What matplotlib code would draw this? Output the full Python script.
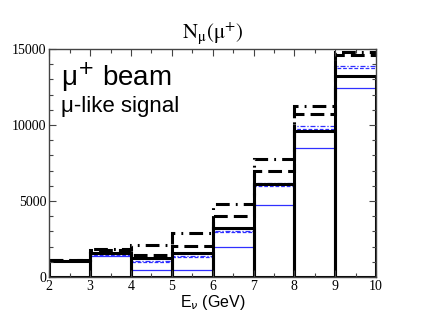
import matplotlib
matplotlib.use("Agg")
import matplotlib.pyplot as plt
from matplotlib.ticker import MultipleLocator
import numpy as np

# bin edges (GeV)
edges = [2, 3, 4, 5, 6, 7, 8, 9, 10]

# thick black solid bars
black_solid = [1060, 1580, 1250, 1610, 3230, 6100, 9580, 13220]
# thick black dashed
black_dashed = [1100, 1800, 1440, 2020, 3990, 6950, 10700, 14620]
# thick black dash-dot
black_dashdot = [1120, 1860, 2120, 2900, 4820, 7740, 11230, 14780]
# thin blue lines
blue_dashdot = [1080, 1500, 1040, 1380, 3020, 6170, 9960, 13900]
blue_dashed = [1070, 1440, 990, 1290, 2940, 5960, 9770, 13740]
blue_solid = [1040, 1400, 490, 470, 1950, 4750, 8460, 12440]

blue = "#3030ff"

fig = plt.figure(figsize=(4.23, 3.27), dpi=100)
ax = fig.add_axes([0.1165, 0.153, 0.7725, 0.697])

x = np.array(edges)

ax.stairs(blue_solid, x, baseline=None, color=blue, lw=0.9)
ax.stairs(blue_dashed, x, baseline=None, color=blue, lw=0.9, linestyle=(0, (3, 1.5)))
ax.stairs(blue_dashdot, x, baseline=None, color=blue, lw=0.9, linestyle=(0, (4, 1.5, 1, 1.5)))
ax.stairs(black_dashed, x, baseline=None, color="black", lw=2.2, linestyle=(0, (4.5, 2)))
ax.stairs(black_dashdot, x, baseline=None, color="black", lw=2.2, linestyle=(0, (4.5, 2, 0.6, 2)))
ax.bar(x[:-1], black_solid, width=1, align="edge", fill=False, edgecolor="black", lw=2.2)

ax.set_xlim(2, 10)
ax.set_ylim(0, 15000)
ax.xaxis.set_major_locator(MultipleLocator(1))
ax.xaxis.set_minor_locator(MultipleLocator(0.5))
ax.yaxis.set_major_locator(MultipleLocator(5000))
ax.yaxis.set_minor_locator(MultipleLocator(1000))
ax.tick_params(which="both", direction="in", top=True, right=True, color="#444444",
               labelsize=10, pad=2)
ax.tick_params(which="major", length=5, width=0.8)
ax.tick_params(which="minor", length=3, width=0.8)
for lab in ax.get_xticklabels() + ax.get_yticklabels():
    lab.set_fontfamily("Liberation Serif")
for s in ax.spines.values():
    s.set_color("#444444")
    s.set_linewidth(1.0)

ax.set_title(r"$\mathrm{N_{\mu}(\mu^{+})}$", fontsize=15, math_fontfamily="stix", pad=8)
ax.set_xlabel("E$_{\\nu}$ (GeV)", fontsize=11.5, family="Liberation Sans",
              math_fontfamily="dejavusans", labelpad=0)

ax.text(0.035, 0.84, "μ$^{+}$ beam", transform=ax.transAxes, fontsize=20,
        family="Liberation Sans", math_fontfamily="dejavusans")
ax.text(0.035, 0.725, "μ-like signal", transform=ax.transAxes, fontsize=16,
        family="Liberation Sans")

fig.savefig("out.png", dpi=100)
